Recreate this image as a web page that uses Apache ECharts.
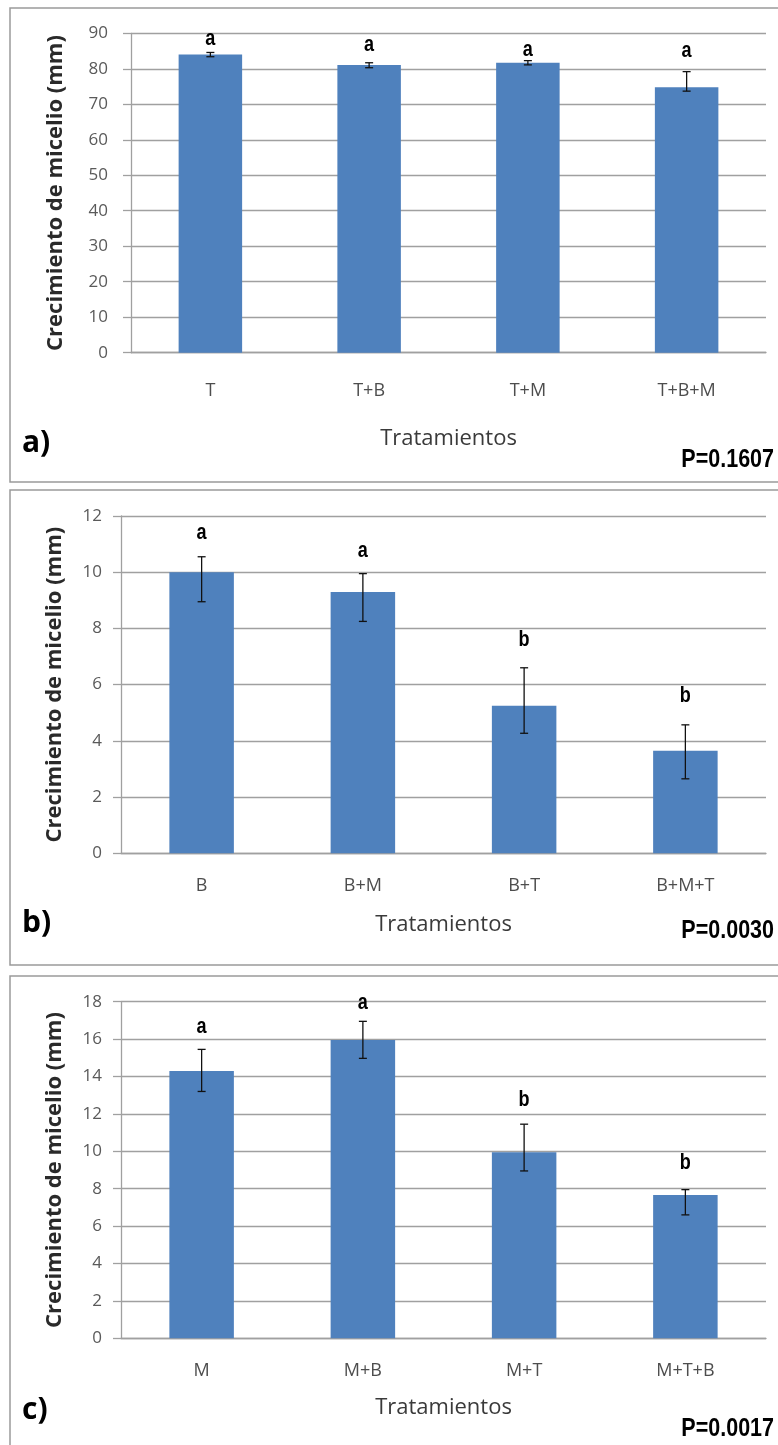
<!DOCTYPE html>
<html>
<head>
<meta charset="utf-8">
<script src="https://cdn.jsdelivr.net/npm/echarts@6/dist/echarts.min.js"></script>
<style>
html,body{margin:0;padding:0;background:#fff;}
#chart{width:778px;height:1445px;}
</style>
</head>
<body>
<div id="chart"></div>
<script>
// ---- Data ----
const catsA = ['T', 'T+B', 'T+M', 'T+B+M'];
const valsA = [84.0, 81.1, 81.7, 74.8];
const errLowA = [83.4, 80.3, 81.1, 73.7];
const errHighA = [84.6, 81.7, 82.3, 79.2];
const lettersA = ['a', 'a', 'a', 'a'];
const letterPosA = [88.3, 86.7, 85.3, 85.0];
const yMaxA = 90, yStepA = 10;
const pA = 'P=0.1607';

const catsB = ['B', 'B+M', 'B+T', 'B+M+T'];
const valsB = [10.0, 9.3, 5.25, 3.65];
const errLowB = [8.95, 8.25, 4.27, 2.65];
const errHighB = [10.55, 9.95, 6.6, 4.57];
const lettersB = ['a', 'a', 'b', 'b'];
const letterPosB = [11.4, 10.77, 7.6, 5.6];
const yMaxB = 12, yStepB = 2;
const pB = 'P=0.0030';

const catsC = ['M', 'M+B', 'M+T', 'M+T+B'];
const valsC = [14.3, 15.95, 9.95, 7.66];
const errLowC = [13.2, 14.97, 8.95, 6.6];
const errHighC = [15.45, 16.95, 11.45, 7.95];
const lettersC = ['a', 'a', 'b', 'b'];
const letterPosC = [16.66, 17.95, 12.74, 9.36];
const yMaxC = 18, yStepC = 2;
const pC = 'P=0.0017';

const panelTags = ['a)', 'b)', 'c)'];
const xTitle = 'Tratamientos';
const yTitle = 'Crecimiento de micelio (mm)';

// ---- Layout / styles ----
const panels = [
  {cats: catsA, vals: valsA, lo: errLowA, hi: errHighA, letters: lettersA, lpos: letterPosA, max: yMaxA, step: yStepA, p: pA,
   grid: {left: 131, top: 33.3, width: 635, height: 319.4}, labelMargin: 29, nameGap: 75, yNameGap: 64, tickMargin: 23,
   box: [10, 8, 780, 474], tagY: 443, pY: 460},
  {cats: catsB, vals: valsB, lo: errLowB, hi: errHighB, letters: lettersB, lpos: letterPosB, max: yMaxB, step: yStepB, p: pB,
   grid: {left: 121, top: 516, width: 645, height: 337.3}, labelMargin: 24, nameGap: 60, yNameGap: 55, tickMargin: 19,
   box: [10, 490, 780, 475], tagY: 923, pY: 931},
  {cats: catsC, vals: valsC, lo: errLowC, hi: errHighC, letters: lettersC, lpos: letterPosC, max: yMaxC, step: yStepC, p: pC,
   grid: {left: 121, top: 1001.7, width: 645, height: 336.6}, labelMargin: 24, nameGap: 58, yNameGap: 55, tickMargin: 19,
   box: [10, 976, 780, 480], tagY: 1410, pY: 1429}
];

const FONT = "'Open Sans', 'Noto Sans', sans-serif";
const BAR = '#4f81bd';
const GRID = '#a0a0a0';

const grids = [], xAxes = [], yAxes = [], series = [], graphics = [];

panels.forEach((pn, i) => {
  grids.push(Object.assign({containLabel: false}, pn.grid));
  xAxes.push({
    type: 'category', gridIndex: i, data: pn.cats,
    axisLine: {show: true, lineStyle: {color: GRID, width: 1.3}},
    axisTick: {show: false},
    axisLabel: {color: '#4d4d4d', fontFamily: FONT, fontSize: 18, margin: pn.labelMargin},
    name: xTitle, nameLocation: 'middle', nameGap: pn.nameGap,
    nameTextStyle: {color: '#3a3a3a', fontFamily: FONT, fontSize: 22}
  });
  yAxes.push({
    type: 'value', gridIndex: i, min: 0, max: pn.max, interval: pn.step,
    axisLine: {show: true, lineStyle: {color: GRID, width: 1.3}},
    axisTick: {show: true, inside: false, length: 8, lineStyle: {color: GRID, width: 1.3}},
    splitLine: {show: true, lineStyle: {color: GRID, width: 1.3}},
    axisLabel: {color: '#5a5a5a', fontFamily: FONT, fontSize: 17, margin: pn.tickMargin},
    name: yTitle, nameLocation: 'middle', nameGap: pn.yNameGap, nameRotate: 90,
    nameTextStyle: {color: '#2a2a2a', fontFamily: FONT, fontSize: 22, fontWeight: 'bold'}
  });
  series.push({
    type: 'bar', xAxisIndex: i, yAxisIndex: i, data: pn.vals,
    barWidth: '40%', itemStyle: {color: BAR}, silent: true, z: 2
  });
  series.push({
    type: 'custom', xAxisIndex: i, yAxisIndex: i, z: 5, silent: true,
    data: pn.cats.map((c, k) => [k, pn.lo[k], pn.hi[k]]),
    encode: {x: 0, y: [1, 2]},
    renderItem: function (params, api) {
      const x = api.value(0);
      const lo = api.coord([x, api.value(1)]);
      const hi = api.coord([x, api.value(2)]);
      const w = 4;
      const st = {stroke: '#111', lineWidth: 1.3};
      return {type: 'group', children: [
        {type: 'line', shape: {x1: lo[0], y1: lo[1], x2: hi[0], y2: hi[1]}, style: st},
        {type: 'line', shape: {x1: hi[0] - w, y1: hi[1], x2: hi[0] + w, y2: hi[1]}, style: st},
        {type: 'line', shape: {x1: lo[0] - w, y1: lo[1], x2: lo[0] + w, y2: lo[1]}, style: st}
      ]};
    }
  });
  // significance letters
  series.push({
    type: 'custom', xAxisIndex: i, yAxisIndex: i, z: 6, silent: true,
    data: pn.cats.map((c, k) => [k, pn.lpos[k]]),
    encode: {x: 0, y: 1},
    renderItem: function (params, api) {
      const pt = api.coord([api.value(0), api.value(1)]);
      return {type: 'text', x: pt[0], y: pt[1], scaleX: 0.82,
        style: {text: pn.letters[params.dataIndex], x: 0, y: 0, fill: '#000',
          font: "bold 22px 'Liberation Sans', Arial, sans-serif",
          textAlign: 'center', textVerticalAlign: 'middle'}};
    }
  });
  graphics.push({
    type: 'rect', shape: {x: pn.box[0], y: pn.box[1], width: pn.box[2], height: pn.box[3]},
    style: {fill: 'none', stroke: '#9a9a9a', lineWidth: 1.5}, silent: true, z: -1
  });
  graphics.push({
    type: 'text', x: 22, y: pn.tagY,
    style: {text: panelTags[i], fill: '#000', font: "bold 30px 'Open Sans', sans-serif",
      textAlign: 'left', textVerticalAlign: 'middle'}, silent: true
  });
  graphics.push({
    type: 'text', x: 774, y: pn.pY, scaleX: 0.86,
    style: {text: pn.p, fill: '#000', font: "bold 25px 'Liberation Sans', Arial, sans-serif",
      textAlign: 'right', textVerticalAlign: 'middle'}, silent: true
  });
});

const chart = echarts.init(document.getElementById('chart'), null, {renderer: 'canvas'});
chart.setOption({
  backgroundColor: '#ffffff',
  animation: false,
  grid: grids, xAxis: xAxes, yAxis: yAxes, series: series,
  graphic: graphics
});
</script>
</body>
</html>
